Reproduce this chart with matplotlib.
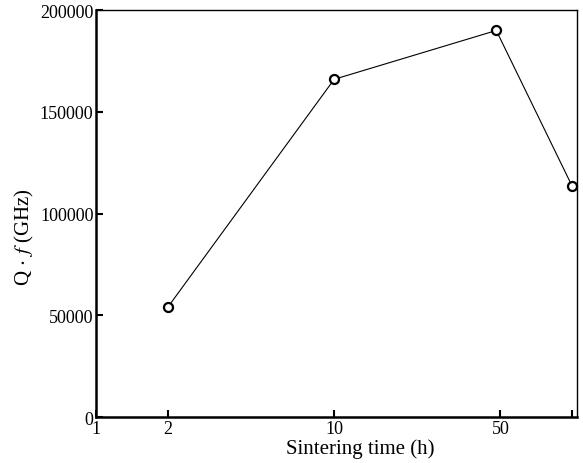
import numpy as np
import matplotlib.pyplot as plt
from matplotlib.ticker import FixedLocator, NullLocator

plt.rcParams['font.family'] = ['Liberation Serif', 'DejaVu Serif']
plt.rcParams['mathtext.fontset'] = 'stix'

sintering_time = [2, 10, 48, 100]
qf_values = [54000, 166000, 190000, 113500]

x_ticks = [1, 2, 10, 50, 100]
x_tick_labels = ['1', '2', '10', '50', '']
y_ticks = [0, 50000, 100000, 150000, 200000]

fig = plt.figure(figsize=(5.83, 4.64), dpi=100)
ax = fig.add_axes([0.165, 0.099, 0.825, 0.877])

ax.axhline(0, color='gray', linestyle=':', linewidth=0.8)
ax.plot(sintering_time, qf_values, color='black', linewidth=0.8,
        marker='o', markersize=6.5, markerfacecolor='white',
        markeredgecolor='black', markeredgewidth=1.6, clip_on=False)

ax.set_xscale('log')
ax.set_xlim(1, 105)
ax.set_ylim(0, 200000)
ax.xaxis.set_major_locator(FixedLocator(x_ticks))
ax.xaxis.set_minor_locator(NullLocator())
ax.set_xticklabels(x_tick_labels)
ax.set_yticks(y_ticks)
ax.set_yticklabels([str(v) for v in y_ticks])

ax.tick_params(direction='in', length=5, width=1.5, labelsize=13, pad=2)
for side in ['left', 'bottom']:
    ax.spines[side].set_linewidth(1.8)
for side in ['top', 'right']:
    ax.spines[side].set_linewidth(1.0)

ax.set_xlabel('Sintering time (h)', fontsize=15)
ax.xaxis.set_label_coords(0.548, -0.053)
ax.set_ylabel(r'Q$\,\cdot\,$$\mathit{f}$ (GHz)', fontsize=15)
ax.yaxis.set_label_coords(-0.125, 0.445)

fig.savefig('out.png', dpi=100)
